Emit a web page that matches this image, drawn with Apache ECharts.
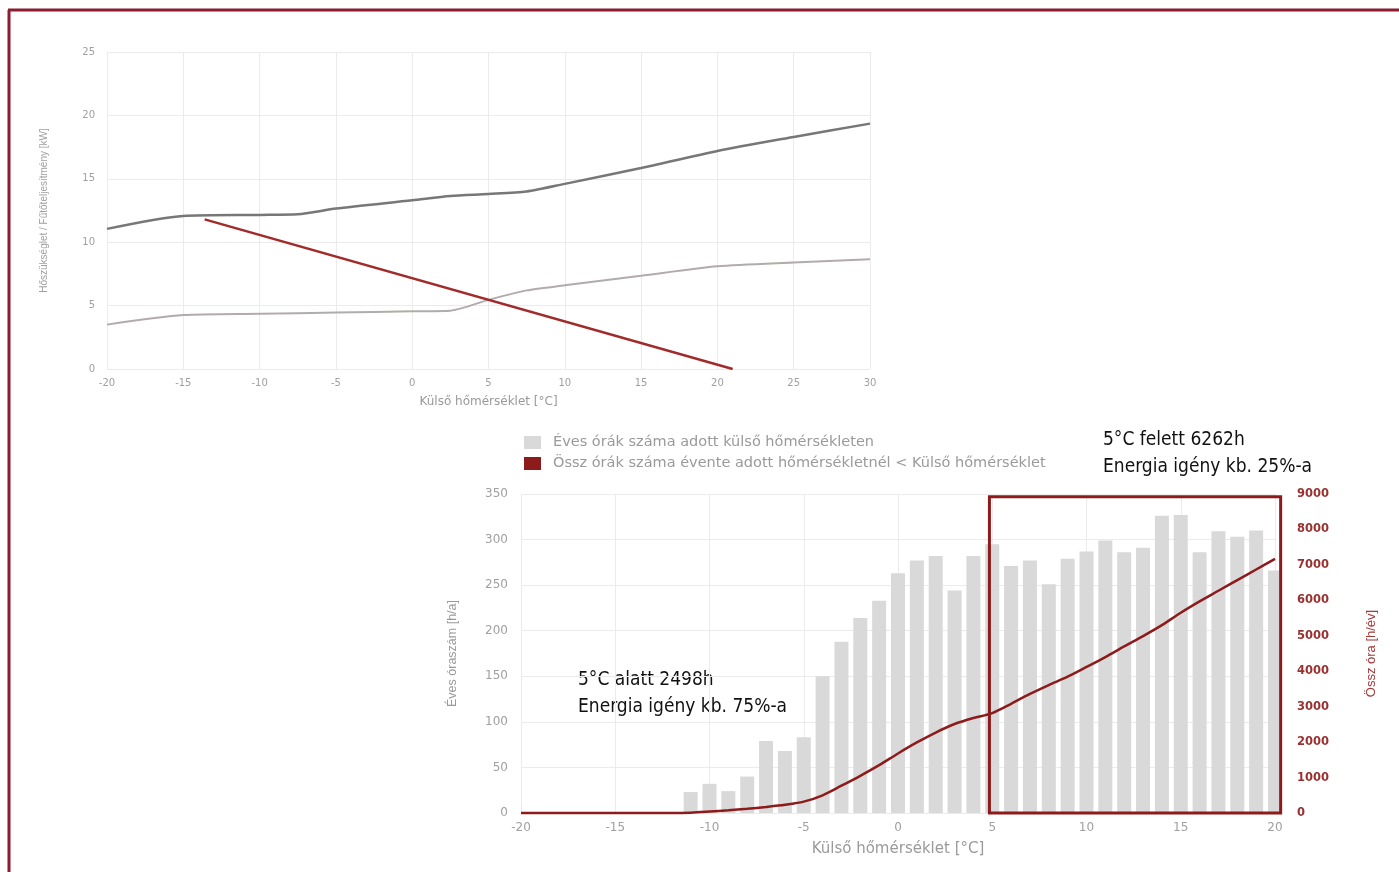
<!DOCTYPE html>
<html>
<head>
<meta charset="utf-8">
<script src="https://cdn.jsdelivr.net/npm/echarts@6/dist/echarts.min.js"></script>
<style>
  html, body { margin: 0; padding: 0; background: #fff; }
  #chart { width: 1399px; height: 872px; }
</style>
</head>
<body>
<div id="chart"></div>
<script>
// top chart: heat demand / heating power vs outside temperature
var demandHigh = [[-20, 11.05], [-15, 12.07], [-10, 12.15], [-7.5, 12.2], [-5, 12.65], [0, 13.3], [2.5, 13.65], [5, 13.8], [7.5, 14.0], [10, 14.6], [15, 15.85], [20, 17.2], [25, 18.3], [30, 19.35]];
var demandLow = [[-20, 3.5], [-15, 4.25], [-10, 4.35], [-5, 4.45], [0, 4.55], [2.5, 4.6], [5, 5.45], [7.5, 6.2], [10, 6.6], [15, 7.35], [20, 8.1], [25, 8.4], [30, 8.65]];
var heatLoad = [[-13.6, 11.8], [21, 0]];

// bottom chart: hours per year at each outside temperature
var temps = [-11, -10, -9, -8, -7, -6, -5, -4, -3, -2, -1, 0, 1, 2, 3, 4, 5, 6, 7, 8, 9, 10, 11, 12, 13, 14, 15, 16, 17, 18, 19, 20];
var hours = [23, 32, 24, 40, 79, 68, 83, 150, 188, 214, 233, 263, 277, 282, 244, 282, 295, 271, 277, 251, 279, 287, 299, 286, 291, 326, 327, 286, 309, 303, 310, 266];
var cumTemps = [-20, -19, -18, -17, -16, -15, -14, -13, -12, -11, -10, -9, -8, -7, -6, -5, -4, -3, -2, -1, 0, 1, 2, 3, 4, 5, 6, 7, 8, 9, 10, 11, 12, 13, 14, 15, 16, 17, 18, 19, 20];
var cumHours = [0, 0, 0, 0, 0, 0, 0, 0, 0, 10, 40, 75, 120, 170, 230, 320, 500, 770, 1050, 1350, 1680, 1990, 2270, 2510, 2680, 2820, 3080, 3360, 3610, 3846, 4120, 4400, 4700, 4990, 5300, 5650, 5970, 6270, 6570, 6870, 7170];

// highlighted range (above 5 °C) in axis units
var boxFrom = [4.85, 347];
var boxTo = [20.3, 0];

var barName = 'Éves órák száma adott külső hőmérsékleten';
var lineName = 'Össz órák száma évente adott hőmérsékletnél < Külső hőmérséklet';

var red = '#8e1b1b';
var frameRed = '#8c1c32';
var gridColor = '#ebebeb';
var labelGray = '#a0a0a0';
var wideFont = '"DejaVu Sans", sans-serif';
var txtFont = '"DejaVu Sans Condensed", Roboto, sans-serif';

function pairs(xs, ys) {
    return xs.map(function (x, i) { return [x, ys[i]]; });
}

var myChart = echarts.init(document.getElementById('chart'));

var option = {
    backgroundColor: '#fff',
    animation: false,
    textStyle: { fontFamily: wideFont },
    grid: [
        { left: 107, top: 52, width: 763, height: 317 },
        { left: 521, top: 494, width: 754, height: 319 }
    ],
    legend: {
        data: [barName, lineName],
        orient: 'vertical',
        left: 519,
        top: 430,
        icon: 'rect',
        itemWidth: 17,
        itemHeight: 13,
        itemGap: 6,
        textStyle: { color: '#9a9a9a', fontSize: 14.5, padding: [0, 0, 0, 7] }
    },
    xAxis: [
        {
            gridIndex: 0, type: 'value', min: -20, max: 30, interval: 5,
            name: 'Külső hőmérséklet [°C]', nameLocation: 'middle', nameGap: 27,
            nameTextStyle: { color: '#999', fontSize: 12 },
            axisLine: { show: false }, axisTick: { show: false },
            axisLabel: { color: labelGray, fontSize: 10, margin: 9 },
            splitLine: { lineStyle: { color: gridColor } }
        },
        {
            gridIndex: 1, type: 'value', min: -20, max: 20, interval: 5,
            name: 'Külső hőmérséklet [°C]', nameLocation: 'middle', nameGap: 29,
            nameTextStyle: { color: '#9a9a9a', fontSize: 15 },
            axisLine: { show: false }, axisTick: { show: false },
            axisLabel: { color: labelGray, fontSize: 12, margin: 9 },
            splitLine: { lineStyle: { color: gridColor } }
        }
    ],
    yAxis: [
        {
            gridIndex: 0, type: 'value', min: 0, max: 25, interval: 5,
            name: 'Hőszükséglet / Fűtőteljesítmény [kW]', nameLocation: 'middle', nameGap: 58,
            nameTextStyle: { color: '#a0a0a0', fontSize: 10, fontFamily: 'Liberation Sans, sans-serif' },
            axisLine: { show: false }, axisTick: { show: false },
            axisLabel: { color: labelGray, fontSize: 10, margin: 12 },
            splitLine: { lineStyle: { color: gridColor } }
        },
        {
            gridIndex: 1, type: 'value', min: 0, max: 350, interval: 50,
            name: 'Éves óraszám [h/a]', nameLocation: 'middle', nameGap: 62,
            nameTextStyle: { color: '#9a9a9a', fontSize: 12.5, fontFamily: 'Liberation Sans, sans-serif' },
            axisLine: { show: false }, axisTick: { show: false },
            axisLabel: { color: labelGray, fontSize: 12, margin: 13 },
            splitLine: { lineStyle: { color: gridColor } }
        },
        {
            gridIndex: 1, type: 'value', min: 0, max: 9000, interval: 1000, position: 'right',
            name: 'Össz óra [h/év]', nameLocation: 'middle', nameGap: 90,
            nameTextStyle: { color: '#a33a3a', fontSize: 13, fontFamily: 'Liberation Sans, sans-serif' },
            axisLine: { show: false }, axisTick: { show: false },
            axisLabel: {
                color: '#9b3030', fontSize: 11.5, fontWeight: 'bold', margin: 22,
                formatter: function (v) { return String(v); }
            },
            splitLine: { show: false }
        }
    ],
    series: [
        {
            name: 'Fűtőteljesítmény max', type: 'line', xAxisIndex: 0, yAxisIndex: 0,
            data: demandHigh, smooth: 0.25, showSymbol: false,
            lineStyle: { color: '#777', width: 2.5 }
        },
        {
            name: 'Fűtőteljesítmény min', type: 'line', xAxisIndex: 0, yAxisIndex: 0,
            data: demandLow, smooth: 0.25, showSymbol: false,
            lineStyle: { color: '#b3abab', width: 2 }
        },
        {
            name: 'Hőszükséglet', type: 'line', xAxisIndex: 0, yAxisIndex: 0,
            data: heatLoad, showSymbol: false,
            lineStyle: { color: '#a12a2a', width: 2.5 }
        },
        {
            name: barName, type: 'bar', xAxisIndex: 1, yAxisIndex: 1,
            data: pairs(temps, hours), barWidth: 14, clip: false,
            itemStyle: { color: '#d9d9d9' }
        },
        {
            name: lineName, type: 'line', xAxisIndex: 1, yAxisIndex: 2,
            data: pairs(cumTemps, cumHours), smooth: 0.3, showSymbol: false, clip: false,
            z: 4,
            itemStyle: { color: red },
            lineStyle: { color: red, width: 2.5 }
        }
    ],
    graphic: [
        { type: 'line', shape: { x1: 8, y1: 10, x2: 1399, y2: 10 }, style: { stroke: frameRed, lineWidth: 3 } },
        { type: 'line', shape: { x1: 9, y1: 10, x2: 9, y2: 872 }, style: { stroke: frameRed, lineWidth: 3 } },
        {
            type: 'text', left: 1103, top: 427,
            style: { text: '5°C felett 6262h\nEnergia igény kb. 25%-a', fill: '#111', font: '19px ' + txtFont, lineHeight: 27 }
        },
        {
            type: 'text', left: 578, top: 667,
            style: { text: '5°C alatt 2498h\nEnergia igény kb. 75%-a', fill: '#111', font: '19px ' + txtFont, lineHeight: 27 }
        }
    ]
};

myChart.setOption(option);

// frame round the "above 5 °C" range, placed through the bottom axes
var p1 = myChart.convertToPixel({ xAxisIndex: 1, yAxisIndex: 1 }, boxFrom);
var p2 = myChart.convertToPixel({ xAxisIndex: 1, yAxisIndex: 1 }, boxTo);
option.graphic.push({
    type: 'rect', z: 10,
    shape: { x: p1[0], y: p1[1], width: p2[0] - p1[0], height: p2[1] - p1[1] },
    style: { fill: 'none', stroke: red, lineWidth: 3 }
});
myChart.setOption({ graphic: option.graphic });
</script>
</body>
</html>
